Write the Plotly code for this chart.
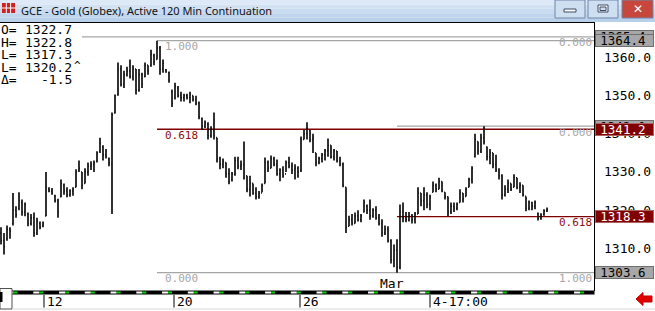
import plotly.graph_objects as go

# ---------------- data ----------------
high = [1315.5, 1314, 1316, 1315.5, 1324.5, 1321, 1324.7, 1322.8, 1322, 1319.4,
        1319, 1319.4, 1318, 1317, 1317, 1330, 1326, 1325.8, 1324, 1323,
        1328, 1327, 1326, 1325.5, 1326, 1330.7, 1333, 1330, 1331, 1332.5,
        1332.8, 1333, 1335.4, 1339, 1337, 1336, 1333.8, 1345.6, 1350.3, 1358.7,
        1358, 1356.5, 1357.6, 1359.5, 1358, 1357, 1357, 1356, 1358.7, 1358,
        1362, 1361, 1364.4, 1363, 1359.5, 1357, 1356.3, 1351.6, 1353.4, 1352.5,
        1351, 1350.5, 1350.5, 1351, 1350, 1350, 1348.5, 1344.3, 1343.5, 1343,
        1342, 1345.6, 1339, 1334, 1333.5, 1332.5, 1331, 1330, 1334, 1334,
        1333, 1338, 1329, 1329, 1327, 1326, 1325, 1327, 1333.8, 1333,
        1334.3, 1334, 1333.3, 1331, 1331.5, 1333, 1334, 1332.5, 1332, 1331.5,
        1339.3, 1341, 1343, 1341, 1340, 1335, 1334, 1335, 1336, 1338.8,
        1337, 1336, 1335.5, 1334, 1332.5, 1326, 1318.5, 1319, 1319.4, 1320,
        1319, 1322.8, 1321.5, 1322.8, 1320.5, 1321, 1319, 1317.6, 1316, 1315.8,
        1312.4, 1311, 1312.4, 1321.5, 1322, 1319.5, 1319.5, 1319, 1319.5, 1326,
        1324.5, 1326, 1324.7, 1324, 1327.5, 1327, 1328.5, 1327.5, 1324.7, 1323.6,
        1322, 1322, 1322, 1325.5, 1324.5, 1326, 1328.5, 1331.5, 1340, 1338,
        1340, 1342, 1336.7, 1336, 1335, 1334.5, 1331, 1329.4, 1326.5, 1328,
        1327, 1329.4, 1328.5, 1327.3, 1326.5, 1323.6, 1322.5, 1322.2, 1322.5, 1319.4,
        1319.2, 1320.2, 1320.7]

low = [1311, 1308.4, 1312, 1312.5, 1316, 1318, 1320, 1318.5, 1318.4, 1315.8,
       1316, 1313, 1313.5, 1315, 1315.5, 1318.4, 1324.7, 1324, 1322, 1318,
       1323.4, 1324, 1323.4, 1323.5, 1323.8, 1326, 1330, 1325.5, 1327, 1329,
       1330.5, 1330, 1332.5, 1335, 1333, 1333.5, 1331.5, 1319, 1345.3, 1350,
       1352.4, 1352, 1355, 1354.5, 1354, 1350.3, 1351, 1352, 1354.8, 1355.5,
       1357.6, 1358, 1359.5, 1355.5, 1356, 1356, 1353.4, 1347, 1349, 1349.5,
       1348.5, 1348.5, 1349, 1348, 1348.5, 1347.5, 1343.8, 1341, 1341.5, 1338.5,
       1339, 1338.5, 1332.5, 1330.7, 1331, 1328.5, 1326.8, 1327.5, 1329, 1330.7,
       1330.5, 1328, 1324.7, 1323.6, 1324, 1322.8, 1323, 1324.7, 1327, 1330,
       1331, 1331.5, 1329, 1327.6, 1328.5, 1330, 1331, 1329.5, 1328, 1328.5,
       1330, 1338.5, 1338.5, 1337.8, 1335, 1331.5, 1332, 1332.5, 1333, 1334,
       1333.5, 1333, 1332.5, 1331.5, 1326, 1314, 1315.8, 1316, 1316.5, 1317,
       1316.8, 1319.4, 1319, 1317.5, 1318, 1317.5, 1316, 1313, 1313.5, 1311.5,
       1306, 1305, 1303.6, 1304.5, 1316.8, 1316.8, 1317, 1316.5, 1316.5, 1319,
       1321, 1320, 1320.5, 1320, 1324.7, 1324.7, 1325.5, 1324.7, 1322.8, 1318.4,
       1319, 1319.5, 1320, 1322, 1322, 1323.6, 1326, 1327, 1333.8, 1334.5,
       1335, 1337.2, 1333, 1332, 1331, 1330, 1328, 1322.8, 1323.6, 1324.5,
       1325, 1326, 1325.5, 1324.5, 1323.6, 1319.7, 1320, 1320, 1320.2, 1317.3,
       1317.5, 1318.5, 1319.5]

open_ = [1314, 1312, 1312.5, 1315, 1316.5, 1320, 1320.5, 1322, 1319.5, 1319,
         1316.5, 1318, 1314, 1316.5, 1315.8, 1318.5, 1325.5, 1325, 1323.8, 1322.5,
         1323.5, 1326.5, 1325, 1324, 1325, 1326, 1330.5, 1330, 1327, 1330,
         1331.5, 1332, 1332.8, 1335.5, 1336.5, 1334.5, 1333.5, 1332, 1345.5, 1350.2,
         1357, 1353, 1355.5, 1356.5, 1355, 1357, 1351.5, 1355.5, 1355, 1358,
         1357.8, 1360.5, 1359.5, 1362.5, 1357, 1356.8, 1356, 1351, 1349.5, 1352,
         1350, 1349.5, 1350, 1349.5, 1350, 1349, 1348, 1344, 1342, 1342.5,
         1339.5, 1341, 1339, 1333.5, 1332, 1332.5, 1329.5, 1328, 1329.5, 1333,
         1331.5, 1332, 1329, 1325.5, 1327, 1324.5, 1323.5, 1324.5, 1327, 1332.5,
         1331, 1333.5, 1332, 1329.5, 1330.5, 1329.5, 1332.5, 1331.5, 1330.5, 1331,
         1330.5, 1338.5, 1340, 1341, 1338.5, 1335, 1332.5, 1333.5, 1334.5, 1335.5,
         1337, 1334, 1335.5, 1333, 1332, 1326, 1315.8, 1317.5, 1316.5, 1318.5,
         1317.5, 1319.5, 1321, 1320, 1318.5, 1320, 1318, 1316.5, 1314, 1315,
         1312, 1307, 1309.5, 1305, 1319.5, 1318, 1317.5, 1318.5, 1317.5, 1319,
         1324.5, 1322.5, 1324, 1321.5, 1324.7, 1326.5, 1325.5, 1327.5, 1324.7, 1323.5,
         1319.5, 1321, 1320.5, 1322, 1324.5, 1323.6, 1326, 1328, 1334, 1338,
         1335.5, 1339, 1336.5, 1334, 1335, 1332, 1330.5, 1329, 1324, 1325.5,
         1327, 1326, 1328.5, 1326, 1326.5, 1323.6, 1320.5, 1322, 1321, 1319.2,
         1317.8, 1318.8, 1319.8]

close = [1312, 1310.5, 1315, 1314.5, 1320, 1318.8, 1322.5, 1319.5, 1321.5, 1316.5,
         1318, 1314, 1317, 1315.5, 1316.5, 1326, 1325, 1324.5, 1322.5, 1319.5,
         1327, 1325, 1324, 1325, 1325.5, 1330, 1331, 1326.5, 1330, 1331.5,
         1332, 1332.5, 1335, 1337.5, 1334.5, 1334, 1332.5, 1345, 1350, 1357,
         1353, 1355.5, 1356.5, 1355, 1357, 1351.5, 1355.5, 1353, 1358, 1356.5,
         1361, 1359, 1362.5, 1357, 1358.5, 1356.2, 1354, 1348, 1352.5, 1350,
         1349.5, 1350, 1349.5, 1350.5, 1349, 1348, 1344.5, 1342, 1343, 1339.5,
         1341.5, 1339.5, 1333.5, 1332, 1332.8, 1329.5, 1327.5, 1329.5, 1333, 1331.5,
         1332, 1328.5, 1325.5, 1327, 1324.5, 1323.5, 1324.5, 1326.5, 1332.5, 1331,
         1333.5, 1332, 1329.5, 1330.5, 1329, 1332.5, 1331.5, 1330.5, 1331, 1330,
         1338.5, 1340, 1341.5, 1338.5, 1339, 1332.5, 1333.5, 1334.5, 1335.5, 1337,
         1334, 1335.5, 1333, 1332, 1326.5, 1315.5, 1317.5, 1316.5, 1318.5, 1317.5,
         1318.5, 1322, 1320, 1318.5, 1320, 1318, 1316.5, 1314, 1315, 1312,
         1307, 1309.5, 1305, 1319.5, 1318, 1317.5, 1318.5, 1317.5, 1319, 1324.5,
         1322.5, 1324, 1321.5, 1323.5, 1326.5, 1325.5, 1327.5, 1325, 1323.5, 1319.5,
         1321, 1320.5, 1321.5, 1324.5, 1323, 1325.5, 1328, 1331, 1338.5, 1335.5,
         1339, 1338, 1334, 1335, 1332, 1330.5, 1329, 1324, 1325.5, 1327,
         1325.5, 1328.5, 1326, 1326.5, 1324, 1320.5, 1322, 1321, 1322, 1317.8,
         1318.8, 1319.8, 1320.2]

bar_index = list(range(len(high)))

price_ticks = [1310, 1320, 1330, 1340, 1350, 1360]
date_tick_pos = [14.33, 57.67, 99.67, 143.0]
date_tick_labels = ["12", "20", "26", "4-17:00"]
month_pos = 130.3
month_label = "Mar"

# Fibonacci drawings: (price, start bar)
fib_left = {"start": 52, "levels": [1364.4, 1341.2, 1303.6], "labels": ["1.000", "0.618", "0.000"]}
fib_right = {"start": 132, "levels": [1342.0, 1318.3, 1303.6], "labels": ["0.000", "0.618", "1.000"]}
fib_extra = {"start": 27, "level": 1365.4, "label": "0.000"}

# price boxes on the axis: (price, style)
price_boxes = [(1365.4, "gray"), (1342.0, "gray"), (1364.4, "gray"),
               (1341.2, "red"), (1318.3, "red"), (1303.6, "gray")]

header_labels = ["O=", "H=", "L=", "L=", "\u0394="]
header_values = ["1322.7", "1322.8", "1317.3", "1320.2", "-1.5"]

title_text = "GCE - Gold (Globex), Active 120 Min Continuation"

# ---------------- layout constants ----------------
W, H = 655, 311
ML, MR, MT, MB = 0, 61, 23, 21
PW = W - ML - MR     # 594
PH = H - MT - MB     # 267
X_RANGE = [-1 / 3, 197 + 2 / 3]
Y_RANGE = [1299.07, 1369.04]

GRAY = "#a6a6a6"
DRED = "#800000"
MONO = "DejaVu Sans Mono"


def px(x):
    return (x - ML) / PW


def py(y):
    return (MT + PH - y) / PH


fig = go.Figure()
fig.add_trace(go.Ohlc(
    x=bar_index, open=open_, high=high, low=low, close=close,
    increasing=dict(line=dict(color="black", width=1.6)),
    decreasing=dict(line=dict(color="black", width=1.6)),
    tickwidth=0.3, hoverinfo="skip", showlegend=False,
))

shapes = []
annotations = []

# title bar gradient stripes
stripe_cols = ["#dde9f6", "#d2e2f3", "#c8dbf0", "#bfd5ed", "#b8d0ea"]
for k, col in enumerate(stripe_cols):
    y0 = k * 22 / len(stripe_cols)
    y1 = (k + 1) * 22 / len(stripe_cols)
    shapes.append(dict(type="rect", xref="paper", yref="paper", x0=px(0), x1=px(W),
                       y0=py(y1), y1=py(y0), fillcolor=col, line=dict(width=0), layer="above"))
# title icon
shapes.append(dict(type="rect", xref="paper", yref="paper", x0=px(2), x1=px(15), y0=py(13), y1=py(3),
                   fillcolor="#d02020", line=dict(width=0), layer="above"))
for gx in [6.3, 10.6]:
    shapes.append(dict(type="line", xref="paper", yref="paper", x0=px(gx), x1=px(gx), y0=py(13), y1=py(3),
                       line=dict(color="white", width=1), layer="above"))
shapes.append(dict(type="line", xref="paper", yref="paper", x0=px(2), x1=px(15), y0=py(8), y1=py(8),
                   line=dict(color="white", width=1), layer="above"))
annotations.append(dict(xref="paper", yref="paper", x=px(19), y=py(10.5), xanchor="left", yanchor="middle",
                        text=title_text, showarrow=False, font=dict(family="Noto Sans", size=11, color="#111111")))
# window buttons
for (bx0, bx1, fill) in [(555, 585, "#cfdff2"), (588, 618, "#cfdff2"), (622, 653, "#c8473c")]:
    shapes.append(dict(type="rect", xref="paper", yref="paper", x0=px(bx0), x1=px(bx1), y0=py(18), y1=py(0),
                       fillcolor=fill, line=dict(color="#6f86a8", width=1), layer="above"))
shapes.append(dict(type="rect", xref="paper", yref="paper", x0=px(564), x1=px(576), y0=py(12), y1=py(9),
                   fillcolor="white", line=dict(color="#3c4c66", width=1), layer="above"))
shapes.append(dict(type="rect", xref="paper", yref="paper", x0=px(598), x1=px(608), y0=py(12), y1=py(5),
                   fillcolor="white", line=dict(color="#3c4c66", width=1), layer="above"))
shapes.append(dict(type="rect", xref="paper", yref="paper", x0=px(600), x1=px(606), y0=py(10.5), y1=py(7),
                   fillcolor="#cfdff2", line=dict(color="#3c4c66", width=1), layer="above"))
annotations.append(dict(xref="paper", yref="paper", x=px(637.5), y=py(9), xanchor="center", yanchor="middle",
                        text="<b>\u2715</b>", showarrow=False, font=dict(family="DejaVu Sans", size=12, color="white")))

# plot frame: top line and right border
shapes.append(dict(type="line", xref="paper", yref="paper", x0=px(0), x1=px(594.5), y0=py(22.5), y1=py(22.5),
                   line=dict(color="black", width=1), layer="above"))
shapes.append(dict(type="line", xref="paper", yref="paper", x0=px(594.5), x1=px(594.5), y0=py(22), y1=py(291),
                   line=dict(color="black", width=1), layer="above"))

# fib lines
shapes.append(dict(type="line", xref="x", yref="y", x0=fib_extra["start"], x1=X_RANGE[1],
                   y0=fib_extra["level"], y1=fib_extra["level"], line=dict(color=GRAY, width=1.3), layer="below"))
for lvl, col in zip(fib_left["levels"], [GRAY, DRED, GRAY]):
    shapes.append(dict(type="line", xref="x", yref="y", x0=fib_left["start"], x1=X_RANGE[1],
                       y0=lvl, y1=lvl, line=dict(color=col, width=1.3), layer="below"))
for lvl, col in zip(fib_right["levels"][:2], [GRAY, DRED]):
    shapes.append(dict(type="line", xref="x", yref="y", x0=fib_right["start"], x1=X_RANGE[1],
                       y0=lvl, y1=lvl, line=dict(color=col, width=1.3), layer="below"))

# fib labels
fib_font_gray = dict(family=MONO, size=11, color=GRAY)
fib_font_red = dict(family=MONO, size=11, color="#8b1010")
for lvl, lab, f in zip(fib_left["levels"], fib_left["labels"], [fib_font_gray, fib_font_red, fib_font_gray]):
    annotations.append(dict(xref="x", yref="y", x=fib_left["start"], y=lvl, xanchor="left", yanchor="middle",
                            xshift=7, yshift=-6, text=lab, showarrow=False, font=f, borderpad=0))
annotations.append(dict(xref="paper", yref="y", x=px(593), y=fib_extra["level"], xanchor="right", yanchor="middle",
                        yshift=-6, text=fib_extra["label"], showarrow=False, font=fib_font_gray, borderpad=0))
for lvl, lab, f in zip(fib_right["levels"], fib_right["labels"], [fib_font_gray, fib_font_red, fib_font_gray]):
    annotations.append(dict(xref="paper", yref="y", x=px(593), y=lvl, xanchor="right", yanchor="middle",
                            yshift=-6, text=lab, showarrow=False, font=f, borderpad=0))

# header OHLC readout
for k, (lab, val) in enumerate(zip(header_labels, header_values)):
    yy = 29.5 + k * 12.6
    annotations.append(dict(xref="paper", yref="paper", x=px(0), y=py(yy), xanchor="left", yanchor="middle",
                            text=lab, showarrow=False, font=dict(family=MONO, size=13, color="black"), borderpad=0))
    annotations.append(dict(xref="paper", yref="paper", x=px(73), y=py(yy), xanchor="right", yanchor="middle",
                            text=val, showarrow=False, font=dict(family=MONO, size=13, color="black"), borderpad=0))
    if k == 3:
        annotations.append(dict(xref="paper", yref="paper", x=px(73), y=py(yy - 2), xanchor="left",
                                yanchor="middle", text="^", showarrow=False,
                                font=dict(family=MONO, size=11, color="black"), borderpad=0))

# price axis labels
for v in price_ticks:
    annotations.append(dict(xref="paper", yref="y", x=px(652), y=v, xanchor="right", yanchor="middle",
                            text=f"{v:.1f}", showarrow=False, font=dict(family=MONO, size=13, color="black"),
                            borderpad=0))
# price boxes
for v, style in price_boxes:
    if style == "gray":
        bg, bc, fc = "#a7a7a7", "#6e6e6e", "black"
    else:
        bg, bc, fc = DRED, "#b06060", "white"
    annotations.append(dict(xref="paper", yref="y", x=px(595), y=v, xanchor="left", yanchor="middle",
                            text=f"{v:.1f} ", showarrow=False, width=57, height=11, align="right",
                            bgcolor=bg, bordercolor=bc, borderwidth=1, borderpad=0,
                            font=dict(family=MONO, size=12.5, color=fc)))

# time strip
shapes.append(dict(type="rect", xref="paper", yref="paper", x0=px(12), x1=px(594.5), y0=py(294.5), y1=py(290.5),
                   fillcolor="black", line=dict(width=0), layer="above"))
k = 0
while True:
    x0 = 7.55 + 25.75 * k
    if x0 > 590:
        break
    wx0, wx1, gx1 = max(x0, 12), min(x0 + 6, 594), min(x0 + 10, 594)
    if wx1 > wx0:
        shapes.append(dict(type="rect", xref="paper", yref="paper", x0=px(wx0), x1=px(wx1), y0=py(293.5),
                           y1=py(291.5), fillcolor="white", line=dict(width=0), layer="above"))
    if gx1 > wx1:
        shapes.append(dict(type="rect", xref="paper", yref="paper", x0=px(wx1), x1=px(gx1), y0=py(293.5),
                           y1=py(291.5), fillcolor="#00d000", line=dict(width=0), layer="above"))
    k += 1

# date ticks and labels
for pos, lab in zip(date_tick_pos, date_tick_labels):
    shapes.append(dict(type="line", xref="x", yref="paper", x0=pos, x1=pos, y0=py(295), y1=py(307.5),
                       line=dict(color="black", width=1), layer="above"))
    annotations.append(dict(xref="x", yref="paper", x=pos, y=py(301.5), xanchor="left", yanchor="middle",
                            xshift=2, text=lab, showarrow=False, font=dict(family=MONO, size=13, color="black"),
                            borderpad=0))
annotations.append(dict(xref="x", yref="paper", x=month_pos, y=py(283.5), xanchor="center", yanchor="middle",
                        text=month_label, showarrow=False, font=dict(family=MONO, size=13, color="black"),
                        borderpad=0))

# bottom-left box
shapes.append(dict(type="rect", xref="paper", yref="paper", x0=px(0), x1=px(12), y0=py(309), y1=py(288.5),
                   fillcolor="white", line=dict(color="#505050", width=1), layer="above"))
shapes.append(dict(type="rect", xref="paper", yref="paper", x0=px(0), x1=px(2.5), y0=py(302), y1=py(292),
                   fillcolor="black", line=dict(width=0), layer="above"))
# bottom separator
shapes.append(dict(type="line", xref="paper", yref="paper", x0=px(12), x1=px(W), y0=py(309), y1=py(309),
                   line=dict(color="#d8d8d8", width=1), layer="above"))

# red arrow
pts = [(636, 299), (643, 292.5), (643, 296), (652, 296), (652, 302), (643, 302), (643, 305.5)]
path = "M " + " L ".join(f"{px(a):.5f},{py(b):.5f}" for a, b in pts) + " Z"
shapes.append(dict(type="path", xref="paper", yref="paper", path=path, fillcolor="#e00000",
                   line=dict(color="#c00000", width=1), layer="above"))

fig.update_layout(
    width=W, height=H,
    margin=dict(l=ML, r=MR, t=MT, b=MB, pad=0),
    paper_bgcolor="white", plot_bgcolor="white",
    showlegend=False,
    xaxis=dict(range=X_RANGE, visible=False, fixedrange=True, rangeslider=dict(visible=False)),
    yaxis=dict(range=Y_RANGE, visible=False, fixedrange=True),
    shapes=shapes, annotations=annotations,
    hovermode=False,
)

fig.write_html("out.html", config={"displayModeBar": False})
